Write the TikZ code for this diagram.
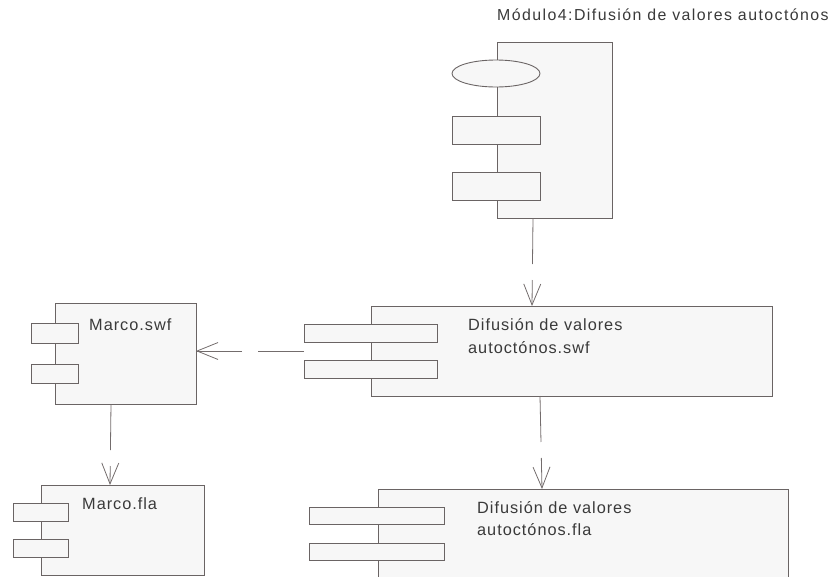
\documentclass[tikz,border=0pt]{standalone}
\usepackage{fontspec}
\setmainfont{Liberation Sans}
\newfontfamily\labelfont{Liberation Sans}[LetterSpace=6]
\newfontfamily\titlefont{Liberation Sans}[LetterSpace=9]
\usetikzlibrary{arrows.meta,shapes.geometric,calc}
\definecolor{linec}{HTML}{6A6464}
\definecolor{arrowc}{HTML}{736C6C}
\definecolor{boxfill}{HTML}{F7F7F7}
\definecolor{textc}{HTML}{3A3A3A}
\tikzset{
  comp/.style={draw=linec, fill=boxfill, line width=0.9pt, inner sep=0pt, outer sep=0pt,
    anchor=north west, rectangle},
  portbox/.style={comp},
  lbl/.style={anchor=base west, inner sep=0pt, text=textc,
    font=\labelfont\fontsize{16.3pt}{23pt}\selectfont},
  ttl/.style={anchor=base west, inner sep=0pt, text=textc,
    font=\titlefont\fontsize{15.9pt}{18pt}\selectfont},
  dep/.style={draw=arrowc, line width=0.8pt, dash pattern=on 46pt off 16pt,
    -{Straight Barb[length=21pt,width=17pt,line width=0.8pt]}}
}
\begin{document}
\begin{tikzpicture}[x=1pt,y=-1pt]
\useasboundingbox (0,0) rectangle (838,576);

% subsystem Modulo4
\node[ttl] (title) at (497,20) {Módulo4:Difusión de valores autoctónos};
\node[comp, minimum width=115pt, minimum height=176pt] (mod) at (497,42) {};
\node[comp, ellipse, anchor=center, minimum width=88pt, minimum height=27pt] (modE) at (496,73.5) {};
\node[portbox, minimum width=88pt, minimum height=28pt] (modP1) at (452,116) {};
\node[portbox, minimum width=88pt, minimum height=28pt] (modP2) at (452,172) {};

% component: swf
\node[comp, minimum width=401pt, minimum height=90pt] (swf) at (371,306) {};
\node[portbox, minimum width=133pt, minimum height=18pt] (swfP1) at (304,324) {};
\node[portbox, minimum width=133pt, minimum height=18pt] (swfP2) at (304,360) {};
\node[lbl] (swfT1) at (468,330) {Difusión de valores};
\node[lbl] (swfT2) at (468,353) {autoctónos.swf};

% component: fla
\node[comp, minimum width=410pt, minimum height=100pt] (fla) at (378,489) {};
\node[portbox, minimum width=135pt, minimum height=17pt] (flaP1) at (309,507) {};
\node[portbox, minimum width=135pt, minimum height=17pt] (flaP2) at (309,543) {};
\node[lbl] (flaT1) at (477,513) {Difusión de valores};
\node[lbl] (flaT2) at (477,535) {autoctónos.fla};

% component: Marco.swf
\node[comp, minimum width=141pt, minimum height=101pt] (msw) at (55,303) {};
\node[portbox, minimum width=47pt, minimum height=20pt] (mswP1) at (31,323) {};
\node[portbox, minimum width=47pt, minimum height=19pt] (mswP2) at (31,364) {};
\node[lbl] (mswT) at (89,330) {Marco.swf};

% component: Marco.fla
\node[comp, minimum width=163pt, minimum height=90pt] (mfl) at (41,485) {};
\node[portbox, minimum width=55pt, minimum height=18pt] (mflP1) at (13,503) {};
\node[portbox, minimum width=55pt, minimum height=18pt] (mflP2) at (13,539) {};
\node[lbl] (mflT) at (82,509) {Marco.fla};

% dependencies
\draw[dep] ($(mod.south west)+(36,0)$) -- ($(swf.north west)+(161,0)$);
\coordinate (swfL) at ($(swfP1.west)!0.5!(swfP2.west)$);
\draw[dep] (swfL) -- (swfL -| msw.east);
\draw[dep] ($(swf.south west)+(169,0)$) -- ($(fla.north west)+(164,0)$);
\draw[dep] ($(msw.south west)+(56,0)$) -- ($(mfl.north west)+(69,0)$);
\end{tikzpicture}
\end{document}
